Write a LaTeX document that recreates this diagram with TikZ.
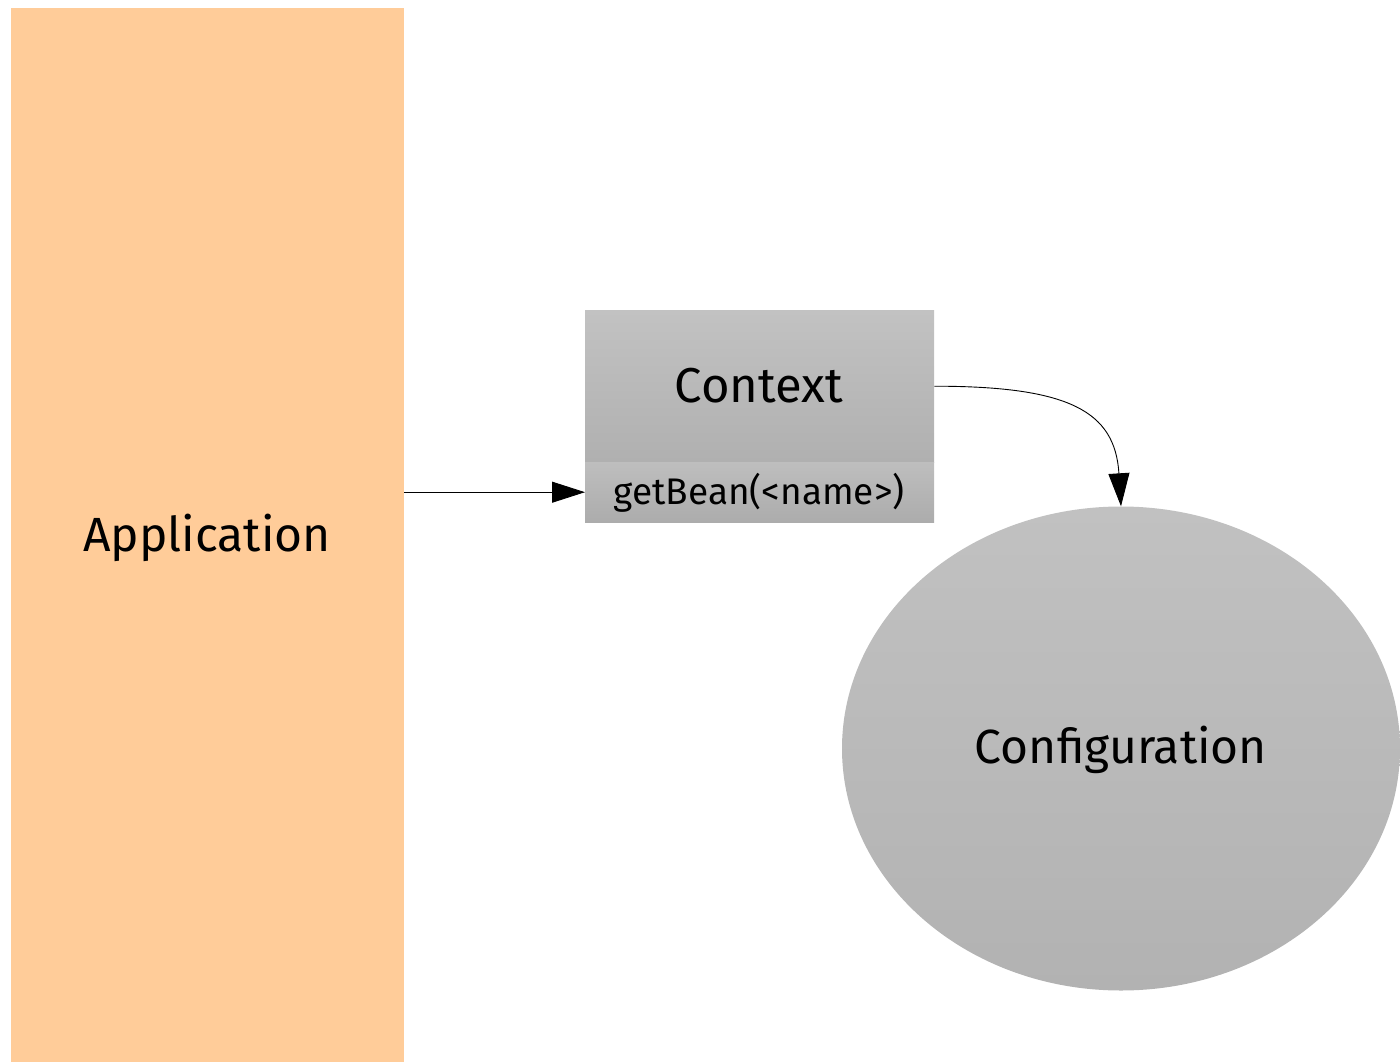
\documentclass[tikz,border=0pt]{standalone}
\usepackage{fontspec}
\setmainfont{Fira Sans}
\usetikzlibrary{arrows.meta,shapes.geometric}
\definecolor{appfill}{RGB}{255,204,153}
\definecolor{greytop}{RGB}{194,194,194}
\definecolor{greybot}{RGB}{176,176,176}
\definecolor{optop}{RGB}{190,190,190}
\definecolor{opbot}{RGB}{172,172,172}
\definecolor{elltop}{RGB}{193,193,193}
\definecolor{ellbot}{RGB}{178,178,178}
\tikzset{
  box/.style={rectangle, inner sep=0pt, draw=none},
  title/.style={font=\fontsize{48}{54}\selectfont},
  flow/.style={draw=black, line width=0.9pt, -{Triangle[length=33pt,width=21pt]}},
}
\begin{document}
\begin{tikzpicture}[x=1pt,y=-1pt]
\useasboundingbox (0,0) rectangle (1400,1062);
% application column
\node[box, fill=appfill, minimum width=393pt, minimum height=1054pt, anchor=north west] (app) at (11,8) {};
\node[title] (applabel) at (207,538) {Application};
% context class box with its operation row
\node[box, top color=greytop, bottom color=greybot, minimum width=349pt, minimum height=152pt,
      anchor=north west] (ctx) at (585,310) {};
\node[title, font=\fontsize{49}{54}\selectfont] (ctxlabel) at (759,386) {Context};
\node[box, top color=optop, bottom color=opbot, minimum width=349pt, minimum height=60pt,
      anchor=north west] (op) at (585,462) {};
\node[font=\fontsize{37}{42}\selectfont] (oplabel) at (759,493) {getBean(<name>)};
% configuration ellipse
\node[ellipse, inner sep=0pt, top color=elltop, bottom color=ellbot,
      minimum width=558pt, minimum height=484pt] (conf) at (1121,748.5) {};
\node[title] (conflabel) at (1121,750) {Configuration};
% connectors
\draw[flow] (app.east |- op.west) -- (op.west);
\draw[flow] (ctx.east) .. controls +(135,0) and +(-6,-95) .. (conf.north);
\end{tikzpicture}
\end{document}
